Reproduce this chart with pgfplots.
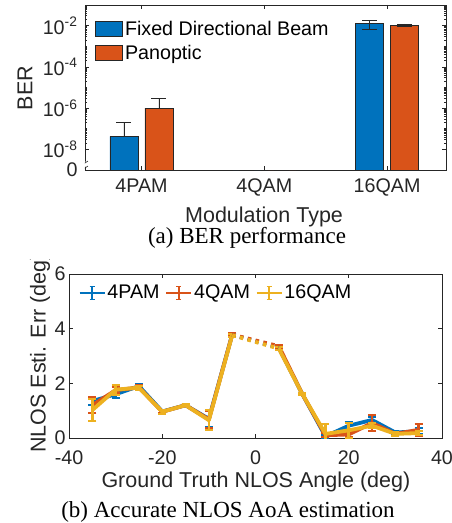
\documentclass[border=0pt]{standalone}
\usepackage{pgfplots}
\usepackage{pgfplotstable}
\pgfplotsset{compat=1.18}
\usepackage{fontspec}
\setmainfont{Liberation Sans}
\newfontfamily\capfont{Liberation Serif}
\definecolor{mblue}{RGB}{0,114,189}
\definecolor{morange}{RGB}{217,83,25}
\definecolor{myellow}{RGB}{237,177,32}
\definecolor{axgray}{RGB}{38,38,38}
\newcommand\ticksize{\fontsize{19.7pt}{23pt}\selectfont}
\newcommand\labsize{\fontsize{21.5pt}{25pt}\selectfont}
\newcommand\capsize{\fontsize{23pt}{27pt}\selectfont}
\newcommand\baricon[1]{\draw[fill=#1,draw=black!85,line width=0.7pt] (0pt,-7.5pt) rectangle (27pt,7.5pt);}
\newcommand\lineicon[1]{\draw[#1,line width=1.5pt] (0pt,0pt) -- (25pt,0pt); \draw[#1,line width=1.5pt] (12.5pt,-6.5pt) -- (12.5pt,6.5pt); \draw[#1,line width=1.2pt] (10pt,6.5pt) -- (15pt,6.5pt) (10pt,-6.5pt) -- (15pt,-6.5pt);}

\pgfplotstableread{
x y e
-35 1.35 0.15
-30 1.60 0.12
-25 1.90 0.08
-20 0.97 0.06
-15 1.20 0.04
-10 0.70 0.30
-5 3.78 0.05
0 nan 0
5 3.30 0.05
10 1.62 0.03
15 0.06 0.05
20 0.45 0.15
25 0.66 0.12
30 0.20 0.05
35 0.25 0.10
}\dataA
\pgfplotstableread{
x y e
-35 1.20 0.30
-30 1.75 0.12
-25 1.85 0.08
-20 0.96 0.06
-15 1.20 0.04
-10 0.68 0.32
-5 3.78 0.05
0 nan 0
5 3.36 0.06
10 1.62 0.03
15 0.10 0.08
20 0.13 0.08
25 0.55 0.30
30 0.15 0.08
35 0.30 0.22
}\dataB
\pgfplotstableread{
x y e
-35 1.02 0.40
-30 1.77 0.18
-25 1.84 0.08
-20 0.96 0.08
-15 1.20 0.04
-10 0.65 0.36
-5 3.76 0.05
0 nan 0
5 3.27 0.06
10 1.62 0.03
15 0.15 0.35
20 0.28 0.27
25 0.45 0.10
30 0.15 0.08
35 0.18 0.08
}\dataC

\begin{document}
\begin{tikzpicture}
\useasboundingbox (0,0) rectangle (452pt,523pt);
% ---------- (a) BER ----------
\begin{axis}[
  at={(85pt,353pt)}, anchor=south west, scale only axis,
  width=361pt, height=165pt,
  ymode=log, log origin y=infty, ymin=1e-9, ymax=1e-1,
  xmin=0.54, xmax=3.48,
  xtick={1,2,3}, xticklabels={4PAM,4QAM,16QAM},
  ytick={1e-9,1e-8,1e-6,1e-4,1e-2},
  yticklabels={0\hspace{16pt},10\textsuperscript{-8},10\textsuperscript{-6},10\textsuperscript{-4},10\textsuperscript{-2}},
  minor ytick={2e-8,3e-8,4e-8,5e-8,6e-8,7e-8,8e-8,9e-8,1e-7,2e-7,3e-7,4e-7,5e-7,6e-7,7e-7,8e-7,9e-7,
    2e-6,3e-6,4e-6,5e-6,6e-6,7e-6,8e-6,9e-6,1e-5,2e-5,3e-5,4e-5,5e-5,6e-5,7e-5,8e-5,9e-5,
    2e-4,3e-4,4e-4,5e-4,6e-4,7e-4,8e-4,9e-4,1e-3,2e-3,3e-3,4e-3,5e-3,6e-3,7e-3,8e-3,9e-3,
    2e-2,3e-2,4e-2,5e-2,6e-2,7e-2,8e-2,9e-2},
  ybar=7pt, bar width=28pt,
  tick align=inside, major tick length=4pt, minor tick length=2.2pt,
  axis line style={axgray, line width=0.6pt}, tick style={axgray, line width=0.6pt},
  ticklabel style={font=\ticksize, text=axgray},
  xticklabel style={yshift=-5pt},
  yticklabel style={xshift=-4pt},
  /pgf/number format/assume math mode=true,
  xlabel={Modulation Type}, ylabel={BER},
  label style={font=\labsize, text=axgray},
  xlabel style={at={(axis description cs:0.496,-0.285)}, anchor=center},
  ylabel style={at={(axis description cs:-0.166,0.497)}, anchor=center, rotate=0},
  legend style={draw=none, fill=none, at={(axis description cs:0.028,0.915)}, anchor=north west,
    font=\ticksize, text=black, row sep=4pt, inner sep=0pt},
  legend cell align=left,
  error bars/error bar style={black!85, line width=0.9pt},
  error bars/error mark options={rotate=90, mark size=7.5pt, line width=0.9pt, black!85},
]
\addplot[fill=mblue, draw=black!85, line width=0.7pt,
  legend image code/.code={\baricon{mblue}},
  error bars/.cd, y dir=both, y explicit]
  coordinates {(1,4.3e-8) += (0,1.7e-7) -= (0,0)
               (2,1e-9) += (0,0) -= (0,0)
               (3,1.25e-2) += (0,0.55e-2) -= (0,0.62e-2)};
\addlegendentry{Fixed Directional Beam}
\addplot[fill=morange, draw=black!85, line width=0.7pt,
  legend image code/.code={\baricon{morange}},
  error bars/.cd, y dir=both, y explicit]
  coordinates {(1,1.0e-6) += (0,1.8e-6) -= (0,0)
               (2,1e-9) += (0,0) -= (0,0)
               (3,1.07e-2) += (0,0.13e-2) -= (0,0.2e-2)};
\addlegendentry{Panoptic}
% axis break mark
\fill[white] (rel axis cs:0,0) ++(-9pt,2pt) -- ++(12pt,8pt) -- ++(0pt,-5pt) -- ++(-12pt,-8pt) -- cycle;
\draw[axgray, line width=0.6pt] (rel axis cs:0,0) ++(-9pt,1pt) -- ++(12pt,8pt);
\draw[axgray, line width=0.6pt] (rel axis cs:0,0) ++(-9pt,-4pt) -- ++(12pt,8pt);
\end{axis}
\node[font=\capfont\capsize, text=black] at (247pt,285pt) {(a) BER performance};

% ---------- (b) NLOS ----------
\begin{scope}
\clip (0,0) rectangle (452pt,263pt);
\begin{axis}[
  at={(69pt,85pt)}, anchor=south west, scale only axis,
  width=373pt, height=164pt,
  xmin=-40, xmax=40, ymin=0, ymax=6,
  xtick={-40,-20,0,20,40}, ytick={0,2,4,6},
  tick align=inside, major tick length=4pt,
  axis line style={axgray, line width=0.6pt}, tick style={axgray, line width=0.6pt},
  ticklabel style={font=\ticksize, text=axgray},
  xticklabel style={yshift=-9pt},
  /pgf/number format/assume math mode=true,
  xlabel={Ground Truth NLOS Angle (deg)}, ylabel={NLOS Esti. Err (deg)},
  label style={font=\labsize, text=axgray},
  xlabel style={at={(axis description cs:0.501,-0.268)}, anchor=center},
  ylabel style={at={(axis description cs:-0.0777,0.518)}, anchor=center},
  unbounded coords=jump,
  legend style={draw=none, fill=none, at={(axis description cs:0.026,0.945)}, anchor=north west,
    font=\ticksize, text=black, legend columns=3, inner sep=0pt,
    /tikz/every even column/.append style={column sep=4pt}},
  legend cell align=left,
  error bars/error bar style={line width=2.6pt},
]
\addplot[mblue, line width=3.8pt, line join=round,
  legend image code/.code={\lineicon{mblue}},
  error bars/.cd, y dir=both, y explicit,
  error mark options={rotate=90, mark size=4pt, line width=2pt, mblue}]
  table[x=x, y=y, y error=e] {\dataA};
\addlegendentry{4PAM}
\addplot[morange, line width=3.8pt, line join=round,
  legend image code/.code={\lineicon{morange}},
  error bars/.cd, y dir=both, y explicit,
  error mark options={rotate=90, mark size=4pt, line width=2pt, morange}]
  table[x=x, y=y, y error=e] {\dataB};
\addlegendentry{4QAM}
\addplot[myellow, line width=3.8pt, line join=round,
  legend image code/.code={\lineicon{myellow}},
  error bars/.cd, y dir=both, y explicit,
  error mark options={rotate=90, mark size=4pt, line width=2pt, myellow}]
  table[x=x, y=y, y error=e] {\dataC};
\addlegendentry{16QAM}
\addplot[mblue, line width=3.8pt, dash pattern=on 3.5pt off 4.5pt, forget plot]
  coordinates {(-5,3.78) (5,3.30)};
\addplot[morange, line width=3.8pt, dash pattern=on 3.5pt off 4.5pt, forget plot]
  coordinates {(-5,3.78) (5,3.36)};
\addplot[myellow, line width=3.8pt, dash pattern=on 3.5pt off 4.5pt, forget plot]
  coordinates {(-5,3.76) (5,3.27)};
\end{axis}
\end{scope}
\node[font=\capfont\capsize, text=black] at (228pt,11pt) {(b) Accurate NLOS AoA estimation};
\end{tikzpicture}
\end{document}
